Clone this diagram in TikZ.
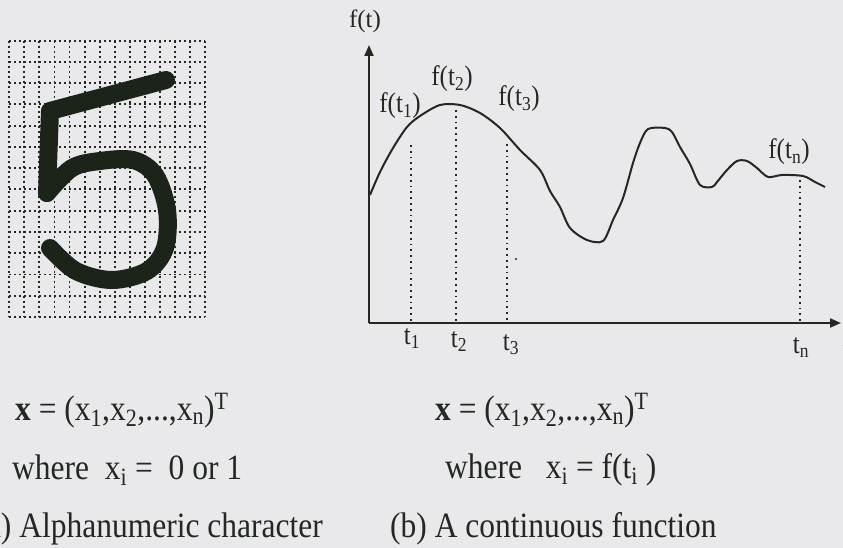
\documentclass[tikz,border=0pt]{standalone}
\usepackage{fontspec}
\usepackage{graphicx}
\setmainfont{Liberation Serif}
\usetikzlibrary{arrows.meta}
\definecolor{bg}{RGB}{233,233,236}
\definecolor{ink}{RGB}{35,40,35}
\definecolor{digit}{RGB}{28,36,26}
\newcommand{\tallt}[1]{\scalebox{1}[1.13]{#1}}
\tikzset{
  gridline/.style={ink, line width=1.9pt, dash pattern=on 1.9pt off 3.1pt},
  dropline/.style={ink, line width=1.8pt, dash pattern=on 1.8pt off 4pt},
  axis/.style={ink, line width=2pt, -{Triangle[length=11pt,width=9pt]}},
  curve/.style={ink, line width=2pt, line join=round},
  digitstroke/.style={digit, line width=18pt, line cap=round, line join=round},
  lbl/.style={ink, inner sep=0pt, font=\fontsize{25}{28}\selectfont},
  big/.style={ink, inner sep=0pt, font=\fontsize{31.5}{36}\selectfont},
}
\begin{document}
\begin{tikzpicture}[x=1pt,y=-1pt]
\fill[bg] (0,0) rectangle (843,548);
\clip (0,0) rectangle (843,548);
\useasboundingbox (0,0) rectangle (843,548);
% ---- grid ----
\foreach \i in {0,...,13}{
  \draw[gridline] ({9.3+15.06*\i},40.7) -- ({9.3+15.06*\i},317);
  \draw[gridline] (9.3,{40.7+21.25*\i}) -- (205,{40.7+21.25*\i});
}
% ---- digit 5 ----
\draw[digitstroke] (166,80) -- (50,111) -- (47,193);
\draw[digitstroke] plot[smooth, tension=0.55] coordinates {(47,193) (72,168) (100,161) (133,160) (155,175) (167,210) (165,248) (147,271) (112,280) (76,271) (50,248)};
% ---- axes ----
\coordinate (O) at (369,323);
\coordinate (ytip) at (369,45);
\coordinate (xtip) at (841,323);
\draw[axis] (O) -- (ytip);
\draw[axis] (O) -- (xtip);
\node[lbl, anchor=center] (ft) at (365,21) {f(t)};
\node[lbl, anchor=base] (tlab) at (846,356) {t};
% ---- curve ----
\draw[curve] plot[smooth, tension=0.5] coordinates {
(370,195) (380,172) (393,148) (407,127) (420,116) (440,105) (460,105) (480,113)
(500,128) (520,150) (540,170) (550,191) (560,207) (570,228) (587,240) (603,241)
(613,220) (623,198) (633,163) (640,143) (648,129) (665,128) (672,132) (680,147)
(690,164) (700,185) (712,187) (717,182) (727,170) (737,161) (747,161) (757,168)
(768,177) (782,175) (803,176) (815,182) (825,187)};
% ---- drop lines ----
\coordinate (c1) at (411,145); \coordinate (a1) at (411,323);
\coordinate (c2) at (456,110); \coordinate (a2) at (456,323);
\coordinate (c3) at (507,144); \coordinate (a3) at (507,323);
\coordinate (cn) at (800,180); \coordinate (an) at (800,323);
\draw[dropline] (c1) -- (a1);
\draw[dropline] (c2) -- (a2);
\draw[dropline] (c3) -- (a3);
\draw[dropline] (cn) -- (an);
% ---- labels ----
\node[lbl] (f1) at (400,106) {\tallt{f(t\textsubscript{1})}};
\node[lbl] (f2) at (452,79) {\tallt{f(t\textsubscript{2})}};
\node[lbl] (f3) at (519,99) {\tallt{f(t\textsubscript{3})}};
\node[lbl] (fn) at (789,152) {\tallt{f(t\textsubscript{n})}};
\node[lbl, anchor=base] (t1) at (412,344) {\tallt{t\textsubscript{1}}};
\node[lbl, anchor=base] (t2) at (459,347) {\tallt{t\textsubscript{2}}};
\node[lbl, anchor=base] (t3) at (511,350) {\tallt{t\textsubscript{3}}};
\node[lbl, anchor=base] (tn) at (801,353) {\tallt{t\textsubscript{n}}};
\fill[ink] (516,259) circle (1.1pt);
% ---- bottom text ----
\node[big, anchor=base west] (xa) at (15,420) {\tallt{\textbf{x} = (x\textsubscript{1},x\textsubscript{2},...,x\textsubscript{n})\textsuperscript{T}}};
\node[big, anchor=base west] (xb) at (435,420) {\tallt{\textbf{x} = (x\textsubscript{1},x\textsubscript{2},...,x\textsubscript{n})\textsuperscript{T}}};
\node[big, anchor=base west] (wa) at (12,479) {\tallt{where\ \ x\textsubscript{i} =\ \ 0 or 1}};
\node[big, anchor=base west] (wb) at (445,478) {\tallt{where\ \ \ x\textsubscript{i} = f(t\textsubscript{i} )}};
\node[big, anchor=base east] (capa) at (323,537) {\tallt{(a) Alphanumeric character}};
\node[big, anchor=base west] (capb) at (390,537) {\tallt{(b) A continuous function}};
\end{tikzpicture}
\end{document}
